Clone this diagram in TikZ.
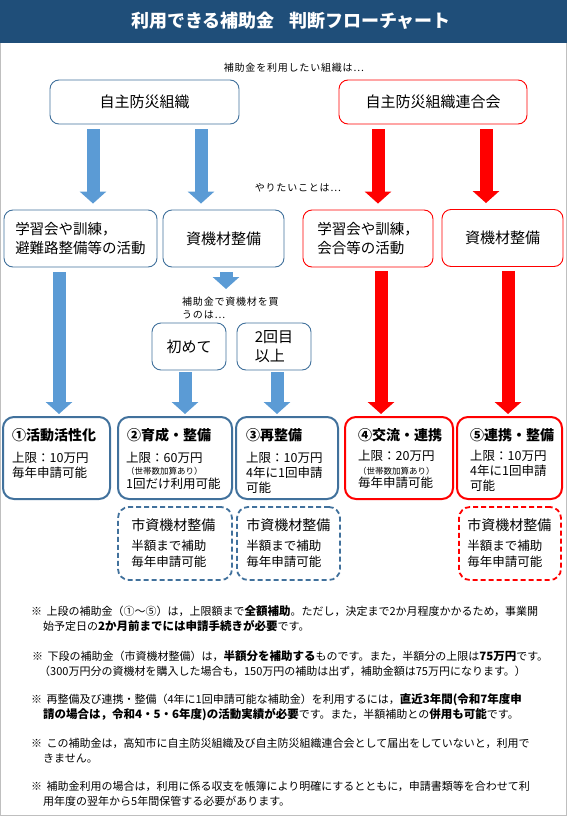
\documentclass[tikz,border=0pt]{standalone}
\usepackage{fontspec}
\setmainfont{Noto Sans CJK JP}
\usetikzlibrary{arrows.meta}
\definecolor{titlebg}{HTML}{1F4E79}
\definecolor{boxblue}{HTML}{41719C}
\definecolor{arrowblue}{HTML}{5B9BD5}
\definecolor{framegray}{HTML}{BFBFBF}
\newcommand{\jsize}[2]{\fontsize{#1}{#2}\selectfont}
\newcommand{\hl}[1]{{\bfseries\jsize{11.5}{11.5}#1}}

\begin{document}
\begin{tikzpicture}[x=1pt, y=1pt, every node/.style={inner sep=0pt},
	topbox/.style={draw, rounded corners=9pt, line width=0.9pt, font=\jsize{15}{19}},
	bluebox/.style={topbox, draw=boxblue},
	redbox/.style={topbox, draw=red},
	planbox/.style={draw, rounded corners=11pt, line width=2pt, minimum height=82pt},
	simbox/.style={draw, dash pattern=on 5pt off 3pt, rounded corners=11pt, line width=1.8pt, minimum height=73pt},
	bluearrow/.style={draw=arrowblue, line width=13pt, -{Triangle[width=26pt, length=12pt]}},
	redarrow/.style={draw=red, line width=13pt, -{Triangle[width=26pt, length=12pt]}},
	plantitle/.style={anchor=west, font=\bfseries\jsize{14}{14}},
	planline/.style={anchor=west, font=\jsize{12.5}{15}},
	plansmall/.style={anchor=west, font=\jsize{8.5}{8.5}},
	simtitle/.style={anchor=west, font=\jsize{14}{14}},
	cue/.style={font=\jsize{10}{12.5}\addfontfeature{LetterSpace=8}},
	remark/.style={anchor=west, font=\jsize{11}{11}}]
	\useasboundingbox (0,0) rectangle (567,-816);
	\draw[framegray, line width=1pt] (0.5,-0.5) rectangle (566.5,-815.5);
	\fill[titlebg] (0,0) rectangle (567,-43);
	\node[font=\bfseries\jsize{18}{18}, text=white] (title) at (291,-21) {利用できる補助金\hspace{0.8em}判断フローチャート};

	% who applies
	\node[cue] (ask) at (294,-68) {補助金を利用したい組織は⋯};
	\node[bluebox, minimum width=189pt, minimum height=44pt] (org1) at (144.5,-102) {自主防災組織};
	\node[redbox, minimum width=188pt, minimum height=44pt] (org2) at (433,-102) {自主防災組織連合会};

	% what they want to do
	\node[cue] (want) at (298,-188) {やりたいことは⋯};
	\node[bluebox, minimum width=153pt, minimum height=57pt, align=left, font=\jsize{14.5}{19}] (act1) at (80.5,-238.5) {学習会や訓練，\\避難路整備等の活動};
	\node[bluebox, minimum width=121pt, minimum height=57pt] (mat1) at (223.5,-238.5) {資機材整備};
	\node[redbox, minimum width=130pt, minimum height=57pt, align=left, font=\jsize{14.5}{19}] (act2) at (368,-238.5) {学習会や訓練，\\会合等の活動};
	\node[redbox, minimum width=121pt, minimum height=57pt] (mat2) at (502.5,-238) {資機材整備};

	\draw[bluearrow] ([xshift=-51.5pt,yshift=-5pt]org1.south) -- ([xshift=12.5pt,yshift=6pt]act1.north);
	\draw[bluearrow] ([xshift=56.5pt,yshift=-5pt]org1.south) -- ([xshift=-22.5pt,yshift=6pt]mat1.north);
	\draw[redarrow] ([xshift=-55pt,yshift=-5pt]org2.south) -- ([xshift=10pt,yshift=6pt]act2.north);
	\draw[redarrow] ([xshift=53pt,yshift=-5pt]org2.south) -- ([xshift=-16.5pt,yshift=6pt]mat2.north);

	% buying equipment
	\coordinate (buy) at (226,-289);
	\draw[bluearrow] ([xshift=2.5pt,yshift=-5pt]mat1.south) -- (buy);
	\node[cue, anchor=north west, align=left] (buyq) at (182,-297) {補助金で資機材を買\\うのは⋯};
	\node[bluebox, minimum width=74pt, minimum height=47pt] (first) at (189,-346.5) {初めて};
	\node[bluebox, minimum width=74pt, minimum height=47pt, align=left] (again) at (274,-346.5) {2回目\\以上};

	% subsidies
	\node[planbox, draw=boxblue, minimum width=107pt] (s1) at (56.5,-458) {};
	\node[planbox, draw=boxblue, minimum width=114pt] (s2) at (175,-458) {};
	\node[planbox, draw=boxblue, minimum width=102pt] (s3) at (287,-458) {};
	\node[planbox, draw=red, minimum width=108pt] (s4) at (399,-458) {};
	\node[planbox, draw=red, minimum width=105pt] (s5) at (509.5,-458) {};

	\draw[bluearrow] ([xshift=-21.5pt,yshift=-5pt]act1.south) -- ([xshift=2.5pt,yshift=2pt]s1.north);
	\draw[bluearrow] ([xshift=-4pt,yshift=-2pt]first.south) -- ([xshift=10pt,yshift=2pt]s2.north);
	\draw[bluearrow] ([xshift=3pt,yshift=-2pt]again.south) -- ([xshift=-10pt,yshift=2pt]s3.north);
	\draw[redarrow] ([xshift=13pt,yshift=-4pt]act2.south) -- ([xshift=-18pt,yshift=2pt]s4.north);
	\draw[redarrow] ([xshift=5.5pt,yshift=-4pt]mat2.south) -- ([xshift=-1.5pt,yshift=2pt]s5.north);

	\node[plantitle] (s1-title) at ([xshift=10pt,yshift=-19pt]s1.north west) {①活動活性化};
	\node[planline] (s1-limit) at ([xshift=10pt,yshift=-42pt]s1.north west) {上限：10万円};
	\node[planline] (s1-term) at ([xshift=10pt,yshift=-57pt]s1.north west) {毎年申請可能};

	\node[plantitle] (s2-title) at ([xshift=10pt,yshift=-19pt]s2.north west) {②育成・整備};
	\node[planline] (s2-limit) at ([xshift=9pt,yshift=-42pt]s2.north west) {上限：60万円};
	\node[plansmall] (s2-add) at ([xshift=9pt,yshift=-55pt]s2.north west) {（世帯数加算あり）};
	\node[planline] (s2-term) at ([xshift=9pt,yshift=-68pt]s2.north west) {1回だけ利用可能};

	\node[plantitle] (s3-title) at ([xshift=11pt,yshift=-19pt]s3.north west) {③再整備};
	\node[planline] (s3-limit) at ([xshift=11pt,yshift=-42pt]s3.north west) {上限：10万円};
	\node[planline, align=left] (s3-term) at ([xshift=11pt,yshift=-64.5pt]s3.north west) {4年に1回申請\\可能};

	\node[plantitle] (s4-title) at ([xshift=14pt,yshift=-19pt]s4.north west) {④交流・連携};
	\node[planline] (s4-limit) at ([xshift=14pt,yshift=-40pt]s4.north west) {上限：20万円};
	\node[plansmall] (s4-add) at ([xshift=14pt,yshift=-55pt]s4.north west) {（世帯数加算あり）};
	\node[planline] (s4-term) at ([xshift=14pt,yshift=-67pt]s4.north west) {毎年申請可能};

	\node[plantitle] (s5-title) at ([xshift=14pt,yshift=-19pt]s5.north west) {⑤連携・整備};
	\node[planline] (s5-limit) at ([xshift=14pt,yshift=-40pt]s5.north west) {上限：10万円};
	\node[planline, align=left] (s5-term) at ([xshift=14pt,yshift=-62.5pt]s5.north west) {4年に1回申請\\可能};

	% city equipment (half)
	\node[simbox, draw=boxblue, minimum width=114pt] (d2) at (175,-543.5) {};
	\node[simbox, draw=boxblue, minimum width=103pt] (d3) at (288.5,-543.5) {};
	\node[simbox, draw=red, minimum width=102pt] (d5) at (510,-543.5) {};
	\foreach \d/\dx in {d2/14, d3/10, d5/9} {
		\node[simtitle] (\d-title) at ([xshift=\dx pt,yshift=-19pt]\d.north west) {市資機材整備};
		\node[planline] (\d-half) at ([xshift=\dx pt,yshift=-40pt]\d.north west) {半額まで補助};
		\node[planline] (\d-term) at ([xshift=\dx pt,yshift=-56pt]\d.north west) {毎年申請可能};
	}

	% notes
	\node[remark] (n1a) at (31,-611) {※\hspace{0.4em}上段の補助金（①～⑤）は，上限額まで\hl{全額補助}。ただし，決定まで2か月程度かかるため，事業開};
	\node[remark] (n1b) at (43,-626) {始予定日の\hl{2か月前までには申請手続きが必要}です。};
	\node[remark] (n2a) at (32,-656) {※\hspace{0.4em}下段の補助金（市資機材整備）は，\hl{半額分を補助する}ものです。また，半額分の上限は\hl{75万円}です。};
	\node[remark] (n2b) at (39,-671) {（300万円分の資機材を購入した場合も，150万円の補助は出ず，補助金額は75万円になります。）};
	\node[remark] (n3a) at (31,-700) {※\hspace{0.4em}再整備及び連携・整備（4年に1回申請可能な補助金）を利用するには，\hl{直近3年間(令和7年度申}};
	\node[remark] (n3b) at (43,-715) {\hl{請の場合は，令和4・5・6年度)の活動実績が必要}です。また，半額補助との\hl{併用も可能}です。};
	\node[remark] (n4a) at (31,-743) {※\hspace{0.4em}この補助金は，高知市に自主防災組織及び自主防災組織連合会として届出をしていないと，利用で};
	\node[remark] (n4b) at (43,-758) {きません。};
	\node[remark] (n5a) at (31,-786) {※\hspace{0.4em}補助金利用の場合は，利用に係る収支を帳簿により明確にするとともに，申請書類等を合わせて利};
	\node[remark] (n5b) at (43,-801) {用年度の翌年から5年間保管する必要があります。};
\end{tikzpicture}
\end{document}
